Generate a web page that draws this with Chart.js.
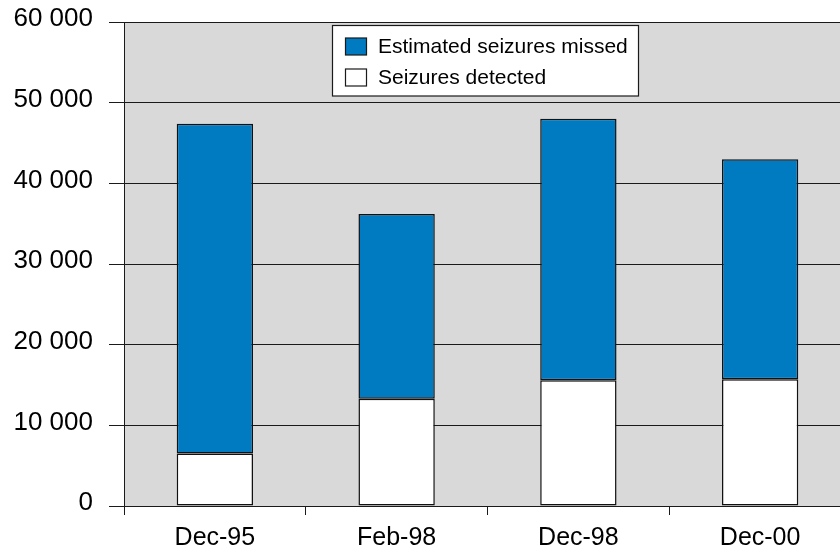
<!DOCTYPE html>
<html>
<head>
<meta charset="utf-8">
<script src="https://cdn.jsdelivr.net/npm/chart.js@4/dist/chart.umd.min.js"></script>
<style>
  html, body { margin: 0; padding: 0; background: #ffffff; overflow: hidden; }
  #wrap { width: 860px; height: 553px; }
</style>
</head>
<body>
<div id="wrap"><canvas id="chart" width="860" height="553"></canvas></div>
<script>
// Survey dates and seizure counts
const categories = ['Dec-95', 'Feb-98', 'Dec-98', 'Dec-00'];
const seizuresDetected = [6500, 13300, 15600, 15700];
const seizuresMissed = [40900, 22900, 32400, 27300];
const seriesNames = ['Seizures detected', 'Estimated seizures missed'];

const FONT = '"Liberation Sans", Arial, sans-serif';
const INK = '#1a1a1a';

// Thousands separated by a space: 60 000
function spaced(v) {
  return String(v).replace(/\B(?=(\d{3})+(?!\d))/g, ' ');
}

// Grey plotting area
const plotBackground = {
  id: 'plotBackground',
  beforeDraw(chart) {
    const { ctx, chartArea: a } = chart;
    ctx.save();
    ctx.fillStyle = '#d9d9d9';
    ctx.fillRect(a.left, a.top, a.right - a.left, a.bottom - a.top);
    ctx.restore();
  }
};

// Boxed legend inside the plot, missed series listed first
const boxedLegend = {
  id: 'boxedLegend',
  afterDatasetsDraw(chart) {
    const { ctx } = chart;
    const box = { x: 332.5, y: 25.5, w: 306, h: 70.5 };
    ctx.save();
    ctx.fillStyle = '#ffffff';
    ctx.fillRect(box.x, box.y, box.w, box.h);
    ctx.strokeStyle = INK;
    ctx.lineWidth = 1.2;
    ctx.strokeRect(box.x, box.y, box.w, box.h);
    const items = chart.data.datasets.slice().reverse();
    const rows = [46.5, 77.5];
    ctx.font = '21px ' + FONT;
    ctx.textBaseline = 'middle';
    ctx.textAlign = 'left';
    items.forEach((ds, i) => {
      const cy = rows[i];
      ctx.fillStyle = ds.backgroundColor;
      ctx.fillRect(345.5, cy - 8.5, 21, 17);
      ctx.strokeStyle = INK;
      ctx.lineWidth = 1.2;
      ctx.strokeRect(345.5, cy - 8.5, 21, 17);
      ctx.fillStyle = '#000000';
      ctx.fillText(ds.label, 378, cy + 1);
    });
    ctx.restore();
  }
};

new Chart(document.getElementById('chart'), {
  type: 'bar',
  data: {
    labels: categories,
    datasets: [
      {
        label: seriesNames[0],
        data: seizuresDetected,
        backgroundColor: '#ffffff',
        borderColor: '#111111',
        borderWidth: 1.5,
        borderSkipped: false
      },
      {
        label: seriesNames[1],
        data: seizuresMissed,
        backgroundColor: '#007ac1',
        borderColor: '#111111',
        borderWidth: 1.5,
        borderSkipped: false
      }
    ]
  },
  options: {
    responsive: false,
    animation: false,
    devicePixelRatio: 1,
    layout: { padding: { top: 22, right: 9, left: 0, bottom: 0 } },
    datasets: { bar: { categoryPercentage: 1, barPercentage: 0.42 } },
    plugins: {
      legend: { display: false },
      tooltip: { enabled: false }
    },
    scales: {
      x: {
        stacked: true,
        grid: {
          offset: true,
          drawOnChartArea: false,
          drawTicks: true,
          tickLength: 9,
          color: INK,
          lineWidth: 1
        },
        border: { display: true, color: INK, width: 1 },
        ticks: {
          color: '#000000',
          font: { family: FONT, size: 25 },
          padding: 8,
          maxRotation: 0
        },
        afterFit(scale) { scale.height = 47; }
      },
      y: {
        stacked: true,
        min: 0,
        max: 60000,
        grid: {
          drawTicks: true,
          tickLength: 15,
          color: INK,
          lineWidth: 1
        },
        border: { display: true, color: INK, width: 1 },
        ticks: {
          stepSize: 10000,
          color: '#000000',
          font: { family: FONT, size: 26 },
          padding: 16,
          labelOffset: -3,
          callback: (v) => spaced(v)
        },
        afterFit(scale) {
          scale.width = 124;
          scale.paddingTop = 0;
          scale.paddingBottom = 0;
        }
      }
    }
  },
  plugins: [plotBackground, boxedLegend]
});
</script>
</body>
</html>
